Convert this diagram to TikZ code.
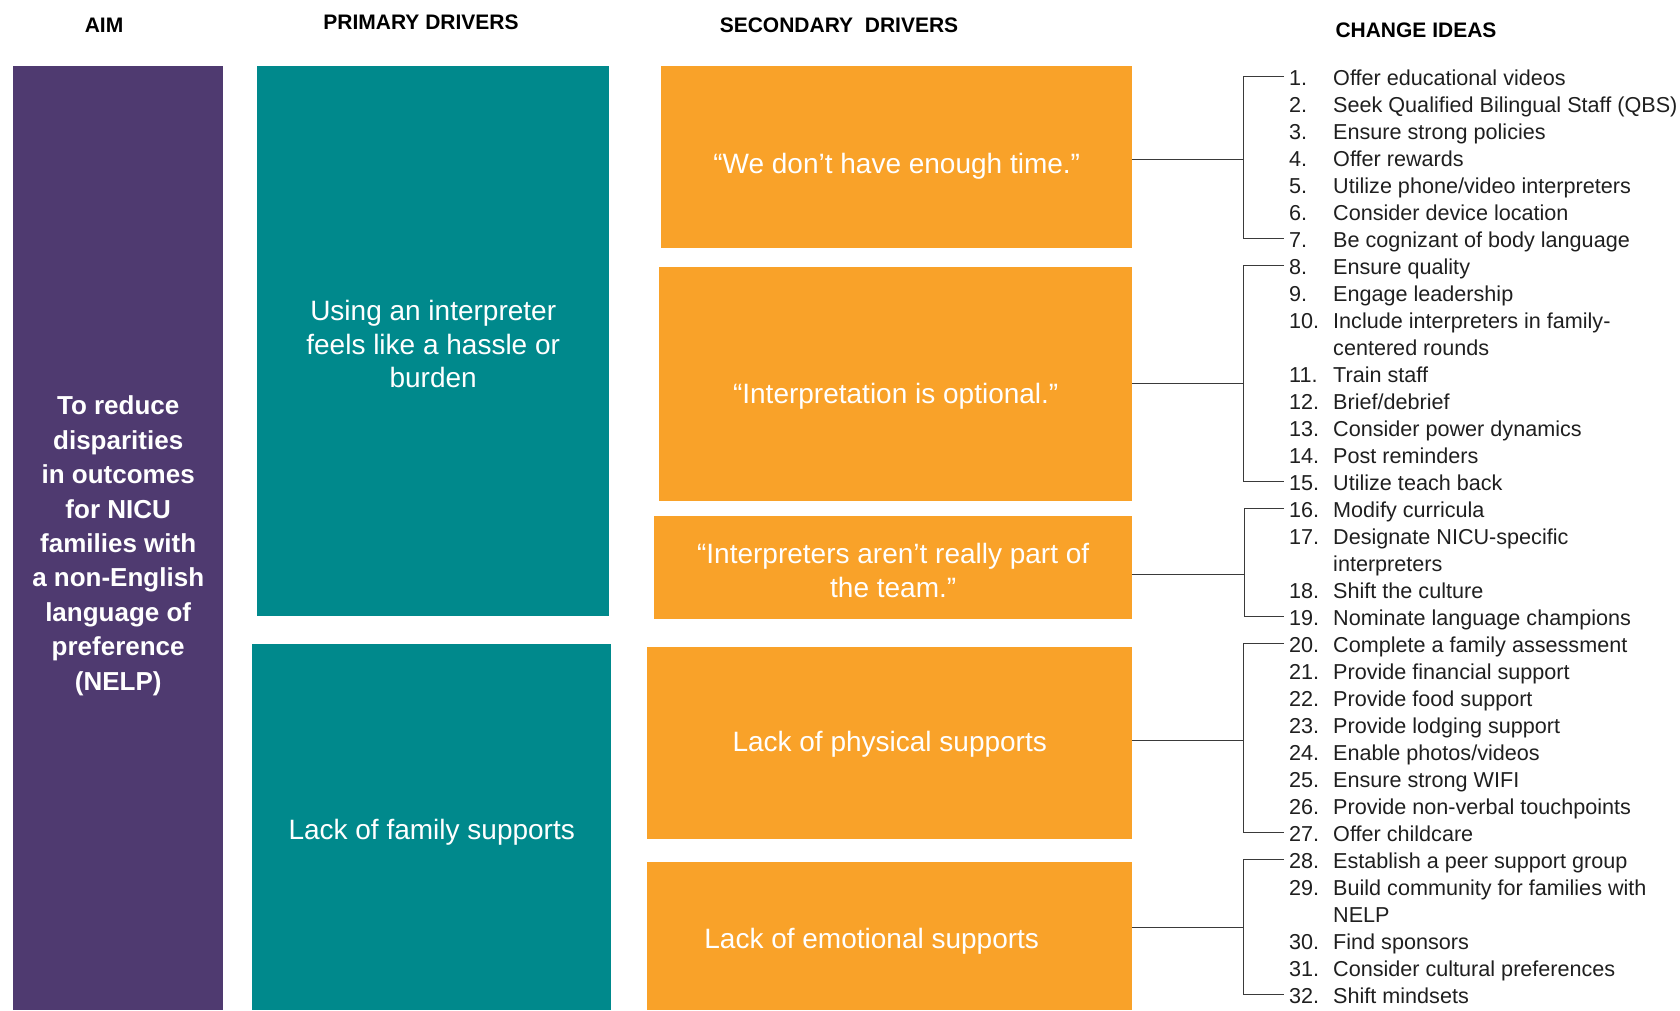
\documentclass[tikz,border=0pt]{standalone}
\usepackage{fontspec}
\setmainfont{Liberation Sans}
\definecolor{aimpurple}{HTML}{4F3A70}
\definecolor{driverteal}{HTML}{00898C}
\definecolor{sdorange}{HTML}{F9A229}
\definecolor{linkgray}{HTML}{3A3A3A}
\tikzset{
  head/.style={font=\bfseries\fontsize{21}{25}\selectfont},
  box/.style={anchor=north west, inner sep=0pt},
  aimtext/.style={text=white, align=center, inner sep=0pt, font=\bfseries\fontsize{26}{34.4}\selectfont},
  pdtext/.style={text=white, align=center, inner sep=0pt, font=\fontsize{28}{33.7}\selectfont},
  sdtext/.style={text=white, align=center, inner sep=0pt, font=\fontsize{28}{34}\selectfont},
  idea/.style={anchor=west, inner sep=0pt, text height=20pt, text depth=2.5pt,
    font=\fontsize{21.6}{25}\selectfont, text=black!88},
  link/.style={draw=linkgray, line width=1pt}
}
\newcommand{\ideanum}[1]{\makebox[44pt][l]{#1}}
\begin{document}
\begin{tikzpicture}[x=1pt, y=-1pt]
\useasboundingbox (0,0) rectangle (1680,1010);
% column heads
\node[head] (haim) at (104,25) {AIM};
\node[head] (hpd) at (421,22) {PRIMARY DRIVERS};
\node[head] (hsd) at (839,25) {SECONDARY~ DRIVERS};
\node[head] (hci) at (1416,30) {CHANGE IDEAS};
% aim
\node[box, fill=aimpurple, minimum width=210pt, minimum height=944pt] (aim) at (13,66) {};
\node[aimtext] (aimt) at ([yshift=-7.5pt]aim.center)
  {To reduce\\disparities\\in outcomes\\for NICU\\families with\\a non-English\\language of\\preference\\(NELP)};
% primary drivers
\node[box, fill=driverteal, minimum width=352pt, minimum height=550pt] (pd1) at (257,66) {};
\node[box, fill=driverteal, minimum width=359pt, minimum height=366pt] (pd2) at (252,644) {};
\node[pdtext] (pd1t) at ([yshift=-3pt]pd1.center) {Using an interpreter\\feels like a hassle or\\burden};
\node[pdtext] (pd2t) at ([yshift=-5.5pt]pd2.center) {Lack of family supports};
% secondary drivers
\node[box, fill=sdorange, minimum width=471pt, minimum height=182pt] (sd1) at (661,66) {};
\node[box, fill=sdorange, minimum width=473pt, minimum height=234pt] (sd2) at (659,267) {};
\node[box, fill=sdorange, minimum width=478pt, minimum height=103pt] (sd3) at (654,516) {};
\node[box, fill=sdorange, minimum width=485pt, minimum height=192pt] (sd4) at (647,647) {};
\node[box, fill=sdorange, minimum width=485pt, minimum height=148pt] (sd5) at (647,862) {};
\node[sdtext] (sd1t) at ([yshift=-9.5pt]sd1.center) {“We don’t have enough time.”};
\node[sdtext] (sd2t) at ([yshift=-12.5pt]sd2.center) {“Interpretation is optional.”};
\node[sdtext] (sd3t) at ([yshift=-3pt]sd3.center) {“Interpreters aren’t really part of\\the team.”};
\node[sdtext] (sd4t) at ([yshift=-1pt]sd4.center) {Lack of physical supports};
\node[sdtext] (sd5t) at ([xshift=-18pt,yshift=-5.5pt]sd5.center) {Lack of emotional supports};
% change ideas
\node[idea] (i1) at (1289,76.5) {\ideanum{1.}Offer educational videos};
\node[idea] (i2) at (1289,103.5) {\ideanum{2.}Seek Qualified Bilingual Staff (QBS)};
\node[idea] (i3) at (1289,130.5) {\ideanum{3.}Ensure strong policies};
\node[idea] (i4) at (1289,157.5) {\ideanum{4.}Offer rewards};
\node[idea] (i5) at (1289,184.5) {\ideanum{5.}Utilize phone/video interpreters};
\node[idea] (i6) at (1289,211.5) {\ideanum{6.}Consider device location};
\node[idea] (i7) at (1289,238.5) {\ideanum{7.}Be cognizant of body language};
\node[idea] (i8) at (1289,265.5) {\ideanum{8.}Ensure quality};
\node[idea] (i9) at (1289,292.5) {\ideanum{9.}Engage leadership};
\node[idea] (i10) at (1289,319.5) {\ideanum{10.}Include interpreters in family-};
\node[idea] (i10b) at (1289,346.5) {\ideanum{}centered rounds};
\node[idea] (i11) at (1289,373.5) {\ideanum{11.}Train staff};
\node[idea] (i12) at (1289,400.5) {\ideanum{12.}Brief/debrief};
\node[idea] (i13) at (1289,427.5) {\ideanum{13.}Consider power dynamics};
\node[idea] (i14) at (1289,454.5) {\ideanum{14.}Post reminders};
\node[idea] (i15) at (1289,481.5) {\ideanum{15.}Utilize teach back};
\node[idea] (i16) at (1289,508.5) {\ideanum{16.}Modify curricula};
\node[idea] (i17) at (1289,535.5) {\ideanum{17.}Designate NICU-specific};
\node[idea] (i17b) at (1289,562.5) {\ideanum{}interpreters};
\node[idea] (i18) at (1289,589.5) {\ideanum{18.}Shift the culture};
\node[idea] (i19) at (1289,616.5) {\ideanum{19.}Nominate language champions};
\node[idea] (i20) at (1289,643.5) {\ideanum{20.}Complete a family assessment};
\node[idea] (i21) at (1289,670.5) {\ideanum{21.}Provide financial support};
\node[idea] (i22) at (1289,697.5) {\ideanum{22.}Provide food support};
\node[idea] (i23) at (1289,724.5) {\ideanum{23.}Provide lodging support};
\node[idea] (i24) at (1289,751.5) {\ideanum{24.}Enable photos/videos};
\node[idea] (i25) at (1289,778.5) {\ideanum{25.}Ensure strong WIFI};
\node[idea] (i26) at (1289,805.5) {\ideanum{26.}Provide non-verbal touchpoints};
\node[idea] (i27) at (1289,832.5) {\ideanum{27.}Offer childcare};
\node[idea] (i28) at (1289,859.5) {\ideanum{28.}Establish a peer support group};
\node[idea] (i29) at (1289,886.5) {\ideanum{29.}Build community for families with};
\node[idea] (i29b) at (1289,913.5) {\ideanum{}NELP};
\node[idea] (i30) at (1289,940.5) {\ideanum{30.}Find sponsors};
\node[idea] (i31) at (1289,967.5) {\ideanum{31.}Consider cultural preferences};
\node[idea] (i32) at (1289,994.5) {\ideanum{32.}Shift mindsets};
% brackets
\coordinate (j1) at (1243,159);
\coordinate (j2) at (1243,383);
\coordinate (j3) at (1244,574);
\coordinate (j4) at (1243,740);
\coordinate (j5) at (1243,927);
\draw[link] ([xshift=-5pt]i1.west) -| (j1) |- ([xshift=-5pt]i7.west);
\draw[link] ([xshift=-5pt]i8.west) -| (j2) |- ([xshift=-5pt]i15.west);
\draw[link] ([xshift=-5pt]i16.west) -| (j3) |- ([xshift=-5pt]i19.west);
\draw[link] ([xshift=-5pt]i20.west) -| (j4) |- ([xshift=-5pt]i27.west);
\draw[link] ([xshift=-5pt]i28.west) -| (j5) |- ([xshift=-5pt]i32.west);
\draw[link] (sd1.east |- j1) -- (j1);
\draw[link] (sd2.east |- j2) -- (j2);
\draw[link] (sd3.east |- j3) -- (j3);
\draw[link] (sd4.east |- j4) -- (j4);
\draw[link] (sd5.east |- j5) -- (j5);
\end{tikzpicture}
\end{document}
